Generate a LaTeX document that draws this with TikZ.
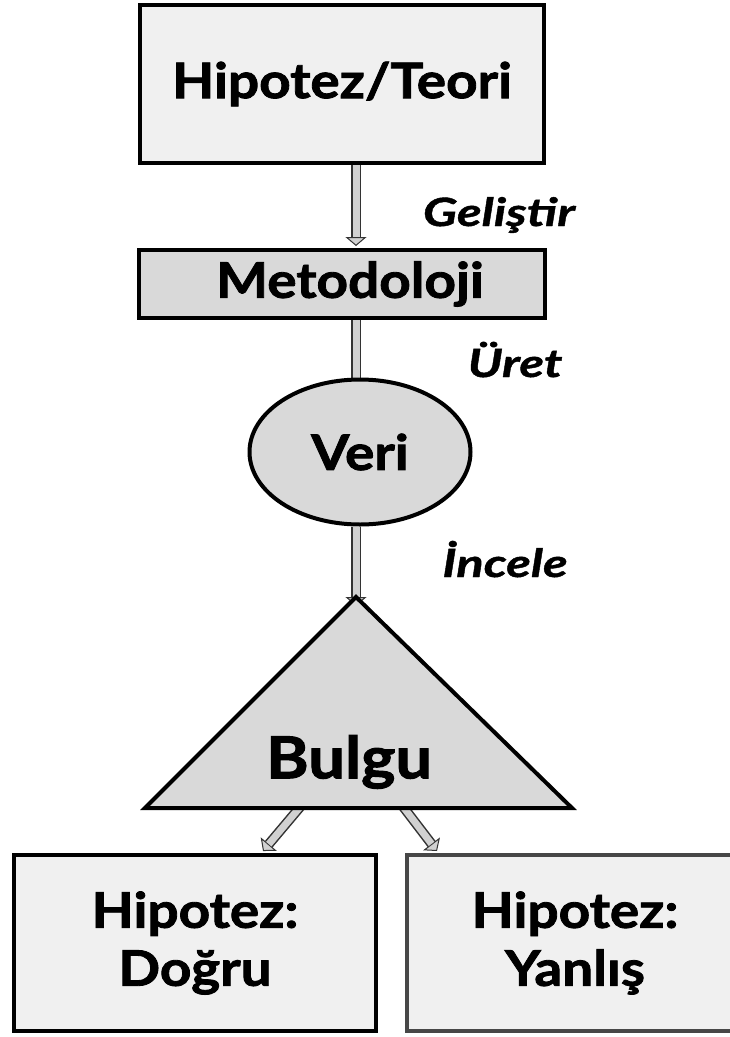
\documentclass[tikz,border=0pt]{standalone}
\usepackage{fontspec}
\setmainfont{Lato}
\newfontfamily\boxfont{Lato}[FakeStretch=1.12, BoldFeatures={FakeBold=1.7}]
\newfontfamily\labelfont{Lato}[FakeStretch=1.3, BoldItalicFeatures={FakeBold=1.1}]
\usetikzlibrary{arrows.meta, shapes.geometric, backgrounds, calc}

\begin{document}
\begin{tikzpicture}[x=1pt, y=-1pt,
            lightsquarednode/.style={rectangle, draw=black, fill=black!6, line width=4pt, inner sep=0pt, align=center},
            graysquarednode/.style={rectangle, draw=black, fill=black!15, line width=4pt, inner sep=0pt},
            grayellipsenode/.style={ellipse, draw=black, fill=black!15, line width=4pt, inner sep=0pt},
            boxtext/.style={font=\boxfont\bfseries\fontsize{49}{58}\selectfont},
            steplabel/.style={anchor=base, font=\labelfont\bfseries\itshape\fontsize{39}{44}\selectfont},
            fatarrow/.style={line width=10pt, draw=black!80, -{Triangle[length=9pt, width=21pt, line width=1pt, fill=black!18]},
                postaction={draw=black!18, line width=7pt, -, shorten >=9pt}},
            ]
            \useasboundingbox (0,0) rectangle (729,1037);
            \node[lightsquarednode, boxtext, minimum width=404pt, minimum height=158pt] (hypo) at (342,84) {Hipotez/Teori};
            \node[graysquarednode, boxtext, minimum width=406pt, minimum height=68pt] (method) at (342,284) {\hspace*{16pt}Metodoloji};
            \node[grayellipsenode, boxtext, minimum width=221pt, minimum height=145pt] (data) at (360,452) {Veri};
            % finding triangle
            \coordinate (apex) at (356,597);
            \coordinate (baseleft) at (145,808);
            \coordinate (baseright) at (572,808);
            \filldraw[draw=black, fill=black!15, line width=4pt, line join=miter] (apex) -- (baseright) -- (baseleft) -- cycle;
            \node[font=\boxfont\bfseries\fontsize{58}{66}\selectfont] (finding) at (349,762) {Bulgu};
            \node[lightsquarednode, boxtext, minimum width=362pt, minimum height=176pt] (trueh) at (195,943) {Hipotez:\\Doğru};
            \node[lightsquarednode, boxtext, draw=black!72, minimum width=336pt, minimum height=176pt] (falseh) at (575,943) {Hipotez:\\Yanlış};
            % labels
            \node[steplabel] (develop) at (499,226) {Geliştir};
            \node[steplabel] (produce) at (515,377) {Üret};
            \node[steplabel] (examine) at (505,577) {İncele};
            \coordinate (leftstart) at (306,800);
            \coordinate (rightstart) at (398,800);
            \begin{scope}[on background layer]
                \fill[white] (0,0) rectangle (729,1037);
                \draw[fatarrow] (hypo.south -| apex) -- ([yshift=2pt]method.north -| apex);
                \draw[fatarrow] (method.south -| apex) -- ([yshift=-15pt]data.north -| apex);
                \draw[fatarrow] (data.south -| apex) -- ([yshift=-9pt]apex);
                \draw[fatarrow] (leftstart) -- ([xshift=68pt, yshift=2pt]trueh.north);
                \draw[fatarrow] (rightstart) -- ([xshift=-138pt, yshift=2pt]falseh.north);
            \end{scope}
        \end{tikzpicture}
\end{document}
